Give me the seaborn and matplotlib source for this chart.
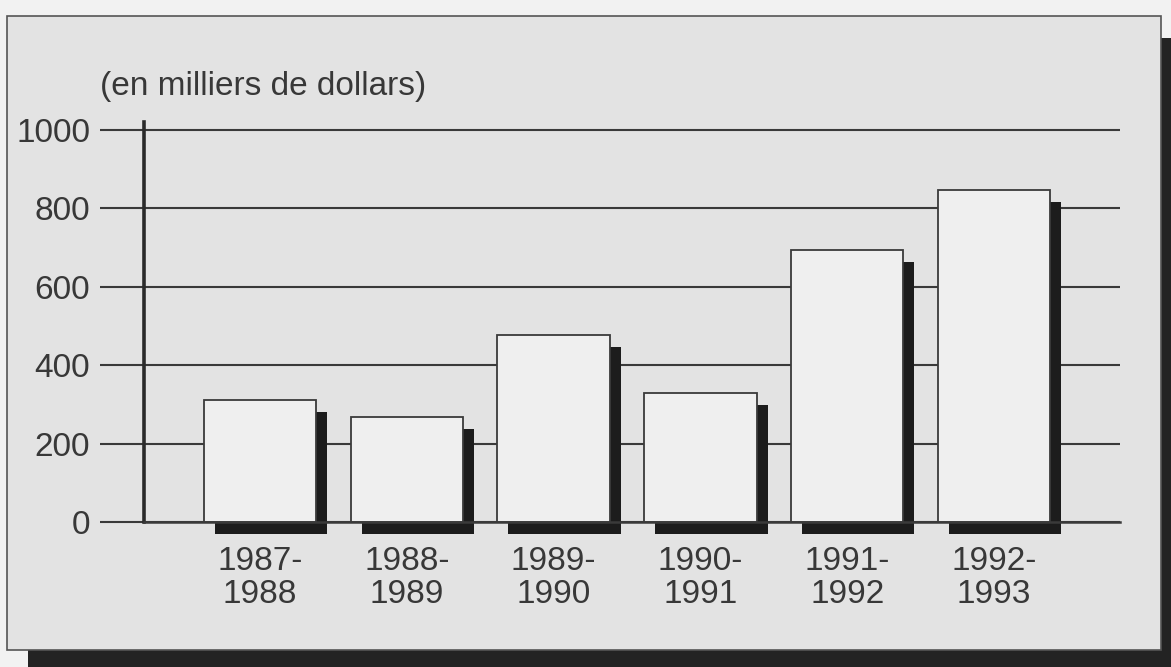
import matplotlib
matplotlib.use("Agg")
import matplotlib.pyplot as plt
from matplotlib.patches import Rectangle
from matplotlib.transforms import ScaledTranslation
import pandas as pd
import seaborn as sns

# Data: yearly amounts (thousands of dollars)
periods = ["1987-\n1988", "1988-\n1989", "1989-\n1990", "1990-\n1991", "1991-\n1992", "1992-\n1993"]
amounts = [310, 268, 477, 330, 694, 847]
y_ticks = [0, 200, 400, 600, 800, 1000]
unit_label = "(en milliers de dollars)"

sns.set_theme(style="white")
plt.rcParams["font.family"] = ["Liberation Sans", "DejaVu Sans"]

W, H, DPI = 1171, 667, 100
TEXT = "#383838"
LINE = "#3a3a3a"

fig = plt.figure(figsize=(W / DPI, H / DPI), dpi=DPI, facecolor="#f2f2f2")


def px_rect(x0, y0, x1, y1, **kw):
    """Rectangle given in pixel coordinates measured from the top-left corner."""
    return Rectangle((x0 / W, 1 - y1 / H), (x1 - x0) / W, (y1 - y0) / H,
                     transform=fig.transFigure, **kw)


# Card with a drop shadow behind the chart
fig.patches.append(px_rect(28, 38, W + 5, H + 5, facecolor="#232323", edgecolor="none", zorder=-3))
fig.patches.append(px_rect(7, 16, 1161, 650, facecolor="#e3e3e3", edgecolor="#555555",
                           linewidth=1.2, zorder=-2))

ax = fig.add_axes([144 / W, 1 - 522 / H, (1120 - 144) / W, (522 - 122) / H])
ax.set_facecolor("none")

df = pd.DataFrame({"period": periods, "amount": amounts})
bar_width = 0.765

# Shadow bars, shifted right and down by a few pixels
sns.barplot(data=df, x="period", y="amount", color="#1c1c1c", width=bar_width,
            saturation=1, ax=ax)
shift = ScaledTranslation(11 / DPI, -12 / DPI, fig.dpi_scale_trans)
for p in ax.patches:
    p.set_transform(ax.transData + shift)
    p.set_clip_on(False)
    p.set_edgecolor("none")

# Front bars
sns.barplot(data=df, x="period", y="amount", color="#efefef", width=bar_width,
            saturation=1, edgecolor="#3a3a3a", linewidth=1.3, ax=ax)
for p in ax.patches:
    p.set_clip_on(False)

ax.set_xlim(-0.79, 5.858)
ax.set_ylim(0, 1020)
ax.set_yticks(y_ticks)
ax.set_xlabel("")
ax.set_ylabel("")

ax.set_axisbelow(True)
ax.yaxis.grid(True, color=LINE, linewidth=1.5)
ax.xaxis.grid(False)

for side in ("top", "right"):
    ax.spines[side].set_visible(False)
ax.spines["left"].set_color("#2a2a2a")
ax.spines["left"].set_linewidth(2.6)
ax.spines["bottom"].set_color(LINE)
ax.spines["bottom"].set_linewidth(1.8)

ax.tick_params(axis="y", direction="out", length=44 * 72 / DPI, width=1.5, color=LINE,
               pad=7, labelsize=24, labelcolor=TEXT, left=True)
ax.tick_params(axis="x", length=0, pad=17, labelsize=24, labelcolor=TEXT)
for lbl in ax.get_xticklabels():
    lbl.set_linespacing(1.1)

fig.text(100 / W, 1 - 95 / H, unit_label, fontsize=24, color=TEXT, va="baseline", ha="left")

fig.savefig("out.png", dpi=DPI, facecolor=fig.get_facecolor())
